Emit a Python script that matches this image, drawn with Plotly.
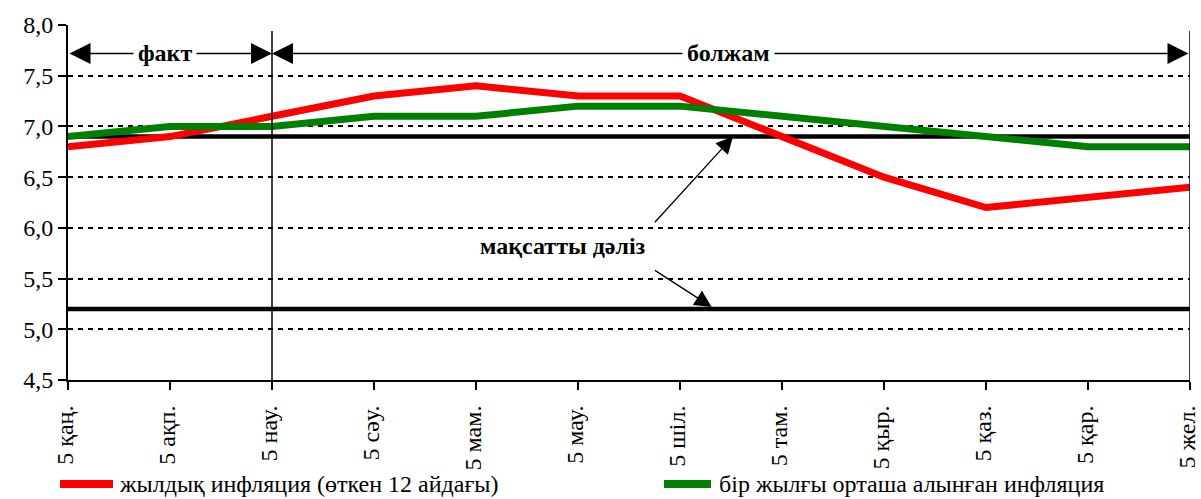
import plotly.graph_objects as go

months = ["қаң.", "ақп.", "нау.", "сәу.", "мам.", "мау.", "шіл.", "там.", "қыр.", "қаз.", "қар.", "жел."]
tick_labels = ["5 " + m for m in months]
annual_infl = [6.8, 6.9, 7.1, 7.3, 7.4, 7.3, 7.3, 6.9, 6.5, 6.2, 6.3, 6.4]
avg_infl = [6.9, 7.0, 7.0, 7.1, 7.1, 7.2, 7.2, 7.1, 7.0, 6.9, 6.8, 6.8]
corridor_upper = 6.9
corridor_lower = 5.2
y_ticks = [4.5, 5.0, 5.5, 6.0, 6.5, 7.0, 7.5, 8.0]
y_tick_text = ["4,5", "5,0", "5,5", "6,0", "6,5", "7,0", "7,5", "8,0"]
fact_end = 2
last_idx = len(months) - 1
name_red = "жылдық инфляция (өткен 12 айдағы)"
name_green = "бір жылғы орташа алынған инфляция"

FONT = "Liberation Serif"
xs = list(range(len(months)))

fig = go.Figure()
for v in (corridor_upper, corridor_lower):
    fig.add_trace(go.Scatter(x=[0, last_idx], y=[v, v], mode="lines",
                             line=dict(color="black", width=4.5), showlegend=False,
                             hoverinfo="skip", cliponaxis=False))
fig.add_trace(go.Scatter(x=xs, y=annual_infl, mode="lines", name=name_red,
                         line=dict(color="#ff0000", width=7), showlegend=False, cliponaxis=False))
fig.add_trace(go.Scatter(x=xs, y=avg_infl, mode="lines", name=name_green,
                         line=dict(color="#008000", width=7), showlegend=False, cliponaxis=False))

LEG_Y = -0.2930
shapes = []
for xi in (fact_end, last_idx):
    shapes.append(dict(type="line", xref="x", yref="y", x0=xi, x1=xi, y0=4.5, y1=7.94,
                       line=dict(color="black", width=1.5)))
shapes.append(dict(type="line", xref="paper", yref="paper", x0=-0.0071, x1=0.0401,
                   y0=LEG_Y, y1=LEG_Y, line=dict(color="#ff0000", width=8), layer="above"))
shapes.append(dict(type="line", xref="paper", yref="paper", x0=0.5312, x1=0.5731,
                   y0=LEG_Y, y1=LEG_Y, line=dict(color="#008000", width=8), layer="above"))

arrow_y = 7.72
annotations = [
    dict(x=fact_end, y=arrow_y, ax=0, ay=arrow_y, xref="x", yref="y", axref="x", ayref="y",
         text="", showarrow=True, arrowhead=2, arrowside="end+start", arrowsize=2.8,
         arrowwidth=1.5, arrowcolor="black"),
    dict(x=fact_end, y=arrow_y, ax=last_idx, ay=arrow_y, xref="x", yref="y", axref="x", ayref="y",
         text="", showarrow=True, arrowhead=2, arrowside="end+start", arrowsize=2.8,
         arrowwidth=1.5, arrowcolor="black"),
    dict(x=0.95, y=arrow_y, xref="x", yref="y", text="<b>факт</b>", showarrow=False,
         bgcolor="white", borderpad=4, font=dict(family=FONT, size=24, color="black")),
    dict(x=6.48, y=arrow_y, xref="x", yref="y", text="<b>болжам</b>", showarrow=False,
         bgcolor="white", borderpad=4, font=dict(family=FONT, size=24, color="black")),
    dict(x=4.85, y=5.82, xref="x", yref="y", text="<b>мақсатты дәліз</b>", showarrow=False,
         font=dict(family=FONT, size=24, color="black")),
    dict(x=6.52, y=corridor_upper, ax=5.74, ay=6.04, xref="x", yref="y", axref="x", ayref="y",
         text="", showarrow=True, arrowhead=2, arrowsize=2.6, arrowwidth=1.3, arrowcolor="black"),
    dict(x=6.31, y=corridor_lower + 0.02, ax=5.74, ay=5.59, xref="x", yref="y", axref="x", ayref="y",
         text="", showarrow=True, arrowhead=2, arrowsize=2.6, arrowwidth=1.3, arrowcolor="black"),
    dict(x=0.0437, y=LEG_Y, xref="paper", yref="paper", xanchor="left", yanchor="middle",
         text=name_red, showarrow=False, font=dict(family=FONT, size=24, color="black")),
    dict(x=0.5784, y=LEG_Y, xref="paper", yref="paper", xanchor="left", yanchor="middle",
         text=name_green, showarrow=False, font=dict(family=FONT, size=24, color="black")),
]

fig.update_layout(
    width=1201, height=499,
    margin=dict(l=68, r=11, t=25, b=119, autoexpand=False),
    plot_bgcolor="white", paper_bgcolor="white",
    font=dict(family=FONT, size=24, color="black"),
    shapes=shapes, annotations=annotations,
    showlegend=False,
)
fig.update_xaxes(range=[0, last_idx], tickmode="array", tickvals=xs, ticktext=tick_labels,
                 tickangle=-90, ticks="outside", ticklen=8, tickwidth=2, tickcolor="black",
                 ticklabelstandoff=6, ticklabelshift=-3,
                 showline=True, linecolor="black", linewidth=2, showgrid=False, zeroline=False,
                 automargin=False, ticklabeloverflow="allow",
                 tickfont=dict(family=FONT, size=24, color="black"))
fig.update_yaxes(range=[4.5, 8.0], tickmode="array", tickvals=y_ticks, ticktext=y_tick_text,
                 ticks="outside", ticklen=8, tickwidth=2, tickcolor="black",
                 showline=True, linecolor="black", linewidth=2,
                 showgrid=True, gridcolor="black", gridwidth=2, griddash="5px,5px",
                 zeroline=False, automargin=False, ticklabeloverflow="allow",
                 tickfont=dict(family=FONT, size=24, color="black"))

fig.write_html("out.html", config={"displayModeBar": False},
               post_script="document.body.style.margin='0';")
